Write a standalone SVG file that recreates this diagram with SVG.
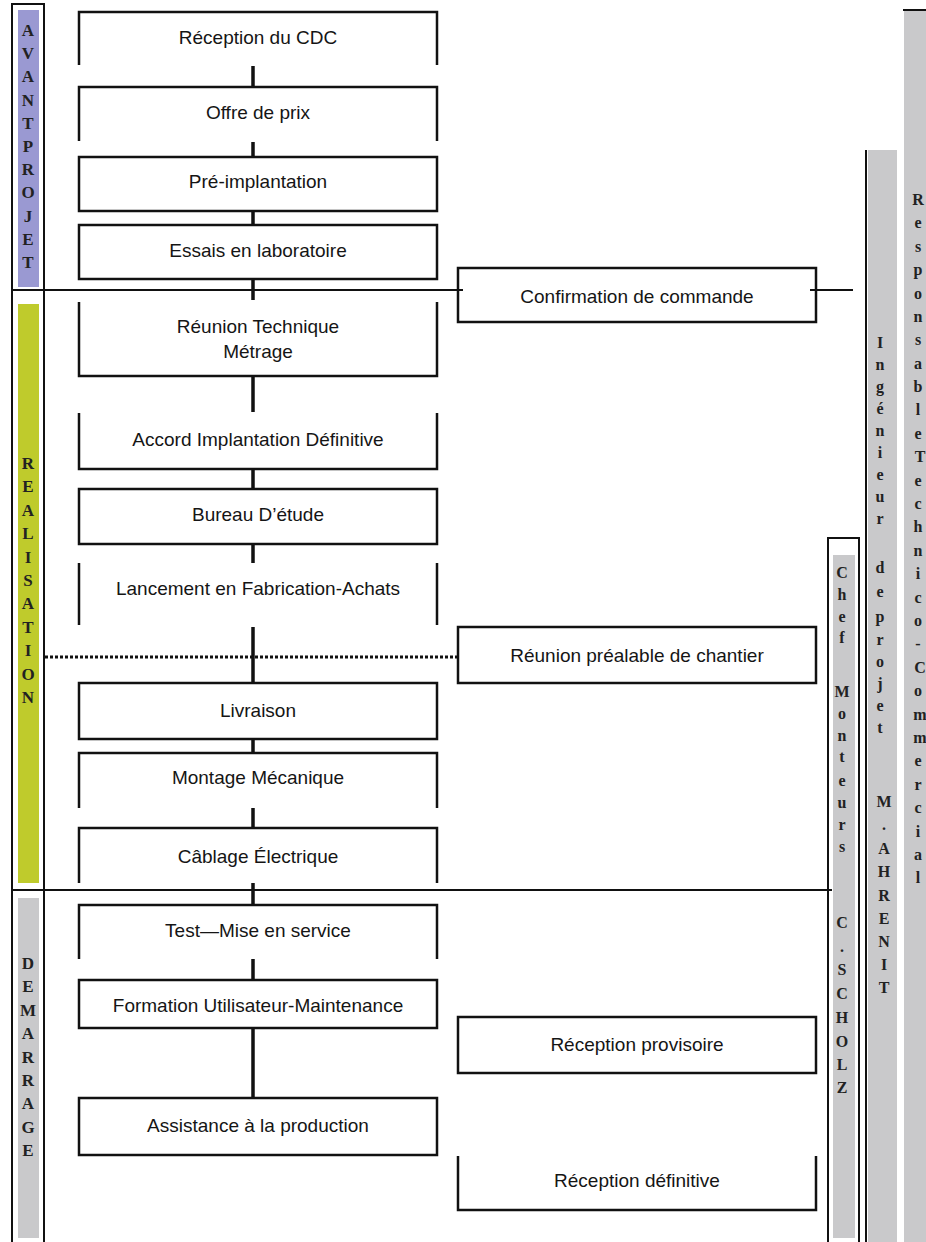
<svg xmlns="http://www.w3.org/2000/svg" width="926" height="1242" viewBox="0 0 926 1242">
<style>
.box{fill:#fff;stroke:#111;stroke-width:2.5}
.open{fill:none;stroke:#111;stroke-width:2.5}
.lbl{font-family:"Liberation Sans",Arial,sans-serif;font-size:19px;fill:#151515;text-anchor:middle}
.conn{stroke:#111;stroke-width:3.5;fill:none}
.sep{stroke:#111;stroke-width:2;fill:none}
.dot{stroke:#111;stroke-width:3;stroke-dasharray:3 2;fill:none}
.vl{font-family:"Liberation Serif","Times New Roman",serif;font-weight:bold;font-size:17px;fill:#222;text-anchor:middle}
.vr{font-family:"Liberation Serif","Times New Roman",serif;font-weight:bold;font-size:16px;fill:#222;text-anchor:middle}
</style>
<rect width="926" height="1242" fill="#fff"/>

<g id="phases">
  <rect x="18" y="10" width="21" height="277" fill="#9a99d2"/>
  <rect x="18" y="304" width="21" height="579" fill="#bfcb2c"/>
  <rect x="18" y="898" width="21" height="340" fill="#c9c9cb"/>
  <path class="sep" d="M12 1242 V4 H44 V1242"/>
  <text class="vl"><tspan x="28" y="36">A</tspan><tspan x="28" y="59">V</tspan><tspan x="28" y="82">A</tspan><tspan x="28" y="106">N</tspan><tspan x="28" y="129">T</tspan><tspan x="28" y="152">P</tspan><tspan x="28" y="175">R</tspan><tspan x="28" y="198">O</tspan><tspan x="28" y="222">J</tspan><tspan x="28" y="245">E</tspan><tspan x="28" y="268">T</tspan></text>
  <text class="vl"><tspan x="28" y="469">R</tspan><tspan x="28" y="492">E</tspan><tspan x="28" y="516">A</tspan><tspan x="28" y="539">L</tspan><tspan x="28" y="563">I</tspan><tspan x="28" y="586">S</tspan><tspan x="28" y="609">A</tspan><tspan x="28" y="633">T</tspan><tspan x="28" y="656">I</tspan><tspan x="28" y="680">O</tspan><tspan x="28" y="703">N</tspan></text>
  <text class="vl"><tspan x="28" y="969">D</tspan><tspan x="28" y="992">E</tspan><tspan x="28" y="1016">M</tspan><tspan x="28" y="1039">A</tspan><tspan x="28" y="1063">R</tspan><tspan x="28" y="1086">R</tspan><tspan x="28" y="1109">A</tspan><tspan x="28" y="1133">G</tspan><tspan x="28" y="1156">E</tspan></text>
</g>

<g id="roles">
  <rect x="904" y="11" width="22" height="1231" fill="#c9c9cb"/>
  <path class="sep" d="M903 10 H926"/>
  <rect x="868" y="150" width="29" height="1092" fill="#c9c9cb"/>
  <path class="sep" d="M866 150 V1242"/>
  <rect x="833" y="555" width="22" height="683" fill="#c9c9cb"/>
  <path class="sep" d="M828 1242 V538 H859 V1242"/>
  <text class="vr"><tspan x="842" y="578">C</tspan><tspan x="842" y="600">h</tspan><tspan x="842" y="622">e</tspan><tspan x="842" y="643">f</tspan><tspan x="842" y="697">M</tspan><tspan x="842" y="719">o</tspan><tspan x="842" y="741">n</tspan><tspan x="842" y="762">t</tspan><tspan x="842" y="786">e</tspan><tspan x="842" y="808">u</tspan><tspan x="842" y="830">r</tspan><tspan x="842" y="852">s</tspan><tspan x="842" y="928">C</tspan><tspan x="842" y="952">.</tspan><tspan x="842" y="975">S</tspan><tspan x="842" y="999">C</tspan><tspan x="842" y="1023">H</tspan><tspan x="842" y="1047">O</tspan><tspan x="842" y="1070">L</tspan><tspan x="842" y="1093">Z</tspan></text>
  <text class="vr"><tspan x="880" y="348">I</tspan><tspan x="880" y="370">n</tspan><tspan x="880" y="392">g</tspan><tspan x="880" y="414">é</tspan><tspan x="880" y="436">n</tspan><tspan x="880" y="458">i</tspan><tspan x="880" y="480">e</tspan><tspan x="880" y="502">u</tspan><tspan x="880" y="524">r</tspan><tspan x="880" y="573">d</tspan><tspan x="880" y="597">e</tspan><tspan x="880" y="622">p</tspan><tspan x="880" y="645">r</tspan><tspan x="880" y="667">o</tspan><tspan x="880" y="689">j</tspan><tspan x="880" y="711">e</tspan><tspan x="880" y="733">t</tspan><tspan x="884" y="807">M</tspan><tspan x="884" y="830">.</tspan><tspan x="884" y="854">A</tspan><tspan x="884" y="877">H</tspan><tspan x="884" y="901">R</tspan><tspan x="884" y="924">E</tspan><tspan x="884" y="947">N</tspan><tspan x="884" y="970">I</tspan><tspan x="884" y="993">T</tspan></text>
  <text class="vr"><tspan x="918" y="205">R</tspan><tspan x="918" y="228">e</tspan><tspan x="918" y="252">s</tspan><tspan x="918" y="275">p</tspan><tspan x="918" y="299">o</tspan><tspan x="918" y="322">n</tspan><tspan x="918" y="345">s</tspan><tspan x="918" y="369">a</tspan><tspan x="918" y="392">b</tspan><tspan x="918" y="415">l</tspan><tspan x="918" y="439">e</tspan><tspan x="920" y="462">T</tspan><tspan x="918" y="486">e</tspan><tspan x="918" y="509">c</tspan><tspan x="918" y="532">h</tspan><tspan x="918" y="556">n</tspan><tspan x="918" y="579">i</tspan><tspan x="918" y="603">c</tspan><tspan x="918" y="626">o</tspan><tspan x="918" y="649">-</tspan><tspan x="920" y="673">C</tspan><tspan x="918" y="696">o</tspan><tspan x="920" y="720">m</tspan><tspan x="920" y="743">m</tspan><tspan x="918" y="766">e</tspan><tspan x="918" y="790">r</tspan><tspan x="918" y="813">c</tspan><tspan x="918" y="837">i</tspan><tspan x="918" y="860">a</tspan><tspan x="918" y="883">l</tspan></text>
</g>

<g id="connectors">
  <path class="sep" d="M12 290 H463 M810 290 H853"/>
  <path class="sep" d="M12 890 H832"/>
  <path class="dot" d="M45 657 H458"/>
  <path class="conn" d="M253 66 V87 M253 142 V157 M253 211 V225 M253 279 V300 M253 376 V412 M253 469 V489 M253 544 V563 M253 627 V683 M253 739 V753 M253 808 V828 M253 883 V905 M253 959 V980 M253 1028 V1098"/>
</g>

<g id="n1"><path class="open" d="M79 65 V12 H437 V65"/><text class="lbl" x="258" y="44">Réception du CDC</text></g>
<g id="n2"><path class="open" d="M79 141 V87 H437 V141"/><text class="lbl" x="258" y="119">Offre de prix</text></g>
<g id="n3"><rect class="box" x="79" y="157" width="358" height="54"/><text class="lbl" x="258" y="188">Pré-implantation</text></g>
<g id="n4"><rect class="box" x="79" y="225" width="358" height="54"/><text class="lbl" x="258" y="257">Essais en laboratoire</text></g>
<g id="n5"><path class="open" d="M79 302 V376 H437 V302"/><text class="lbl" x="258" y="333">Réunion Technique</text><text class="lbl" x="258" y="358">Métrage</text></g>
<g id="n6"><path class="open" d="M79 413 V469 H437 V413"/><text class="lbl" x="258" y="446">Accord Implantation Définitive</text></g>
<g id="n7"><rect class="box" x="79" y="489" width="358" height="55"/><text class="lbl" x="258" y="521">Bureau D’étude</text></g>
<g id="n8"><path class="open" d="M79 563 V625 M437 563 V625"/><text class="lbl" x="258" y="595">Lancement en Fabrication-Achats</text></g>
<g id="n9"><rect class="box" x="79" y="683" width="358" height="56"/><text class="lbl" x="258" y="717">Livraison</text></g>
<g id="n10"><path class="open" d="M79 808 V753 H437 V808"/><text class="lbl" x="258" y="784">Montage Mécanique</text></g>
<g id="n11"><path class="open" d="M79 883 V828 H437 V883"/><text class="lbl" x="258" y="863">Câblage Électrique</text></g>
<g id="n12"><path class="open" d="M79 959 V905 H437 V959"/><text class="lbl" x="258" y="937">Test—Mise en service</text></g>
<g id="n13"><rect class="box" x="79" y="980" width="358" height="48"/><text class="lbl" x="258" y="1012">Formation Utilisateur-Maintenance</text></g>
<g id="n14"><rect class="box" x="79" y="1098" width="358" height="57"/><text class="lbl" x="258" y="1132">Assistance à la production</text></g>

<g id="r1"><rect class="box" x="458" y="268" width="358" height="54"/><path class="sep" d="M458 290 H463 M810 290 H816"/><text class="lbl" x="637" y="303">Confirmation de commande</text></g>
<g id="r2"><rect class="box" x="458" y="627" width="358" height="56"/><text class="lbl" x="637" y="662">Réunion préalable de chantier</text></g>
<g id="r3"><rect class="box" x="458" y="1017" width="358" height="56"/><text class="lbl" x="637" y="1051">Réception provisoire</text></g>
<g id="r4"><path class="open" d="M458 1156 V1210 H816 V1156"/><text class="lbl" x="637" y="1187">Réception définitive</text></g>
</svg>
